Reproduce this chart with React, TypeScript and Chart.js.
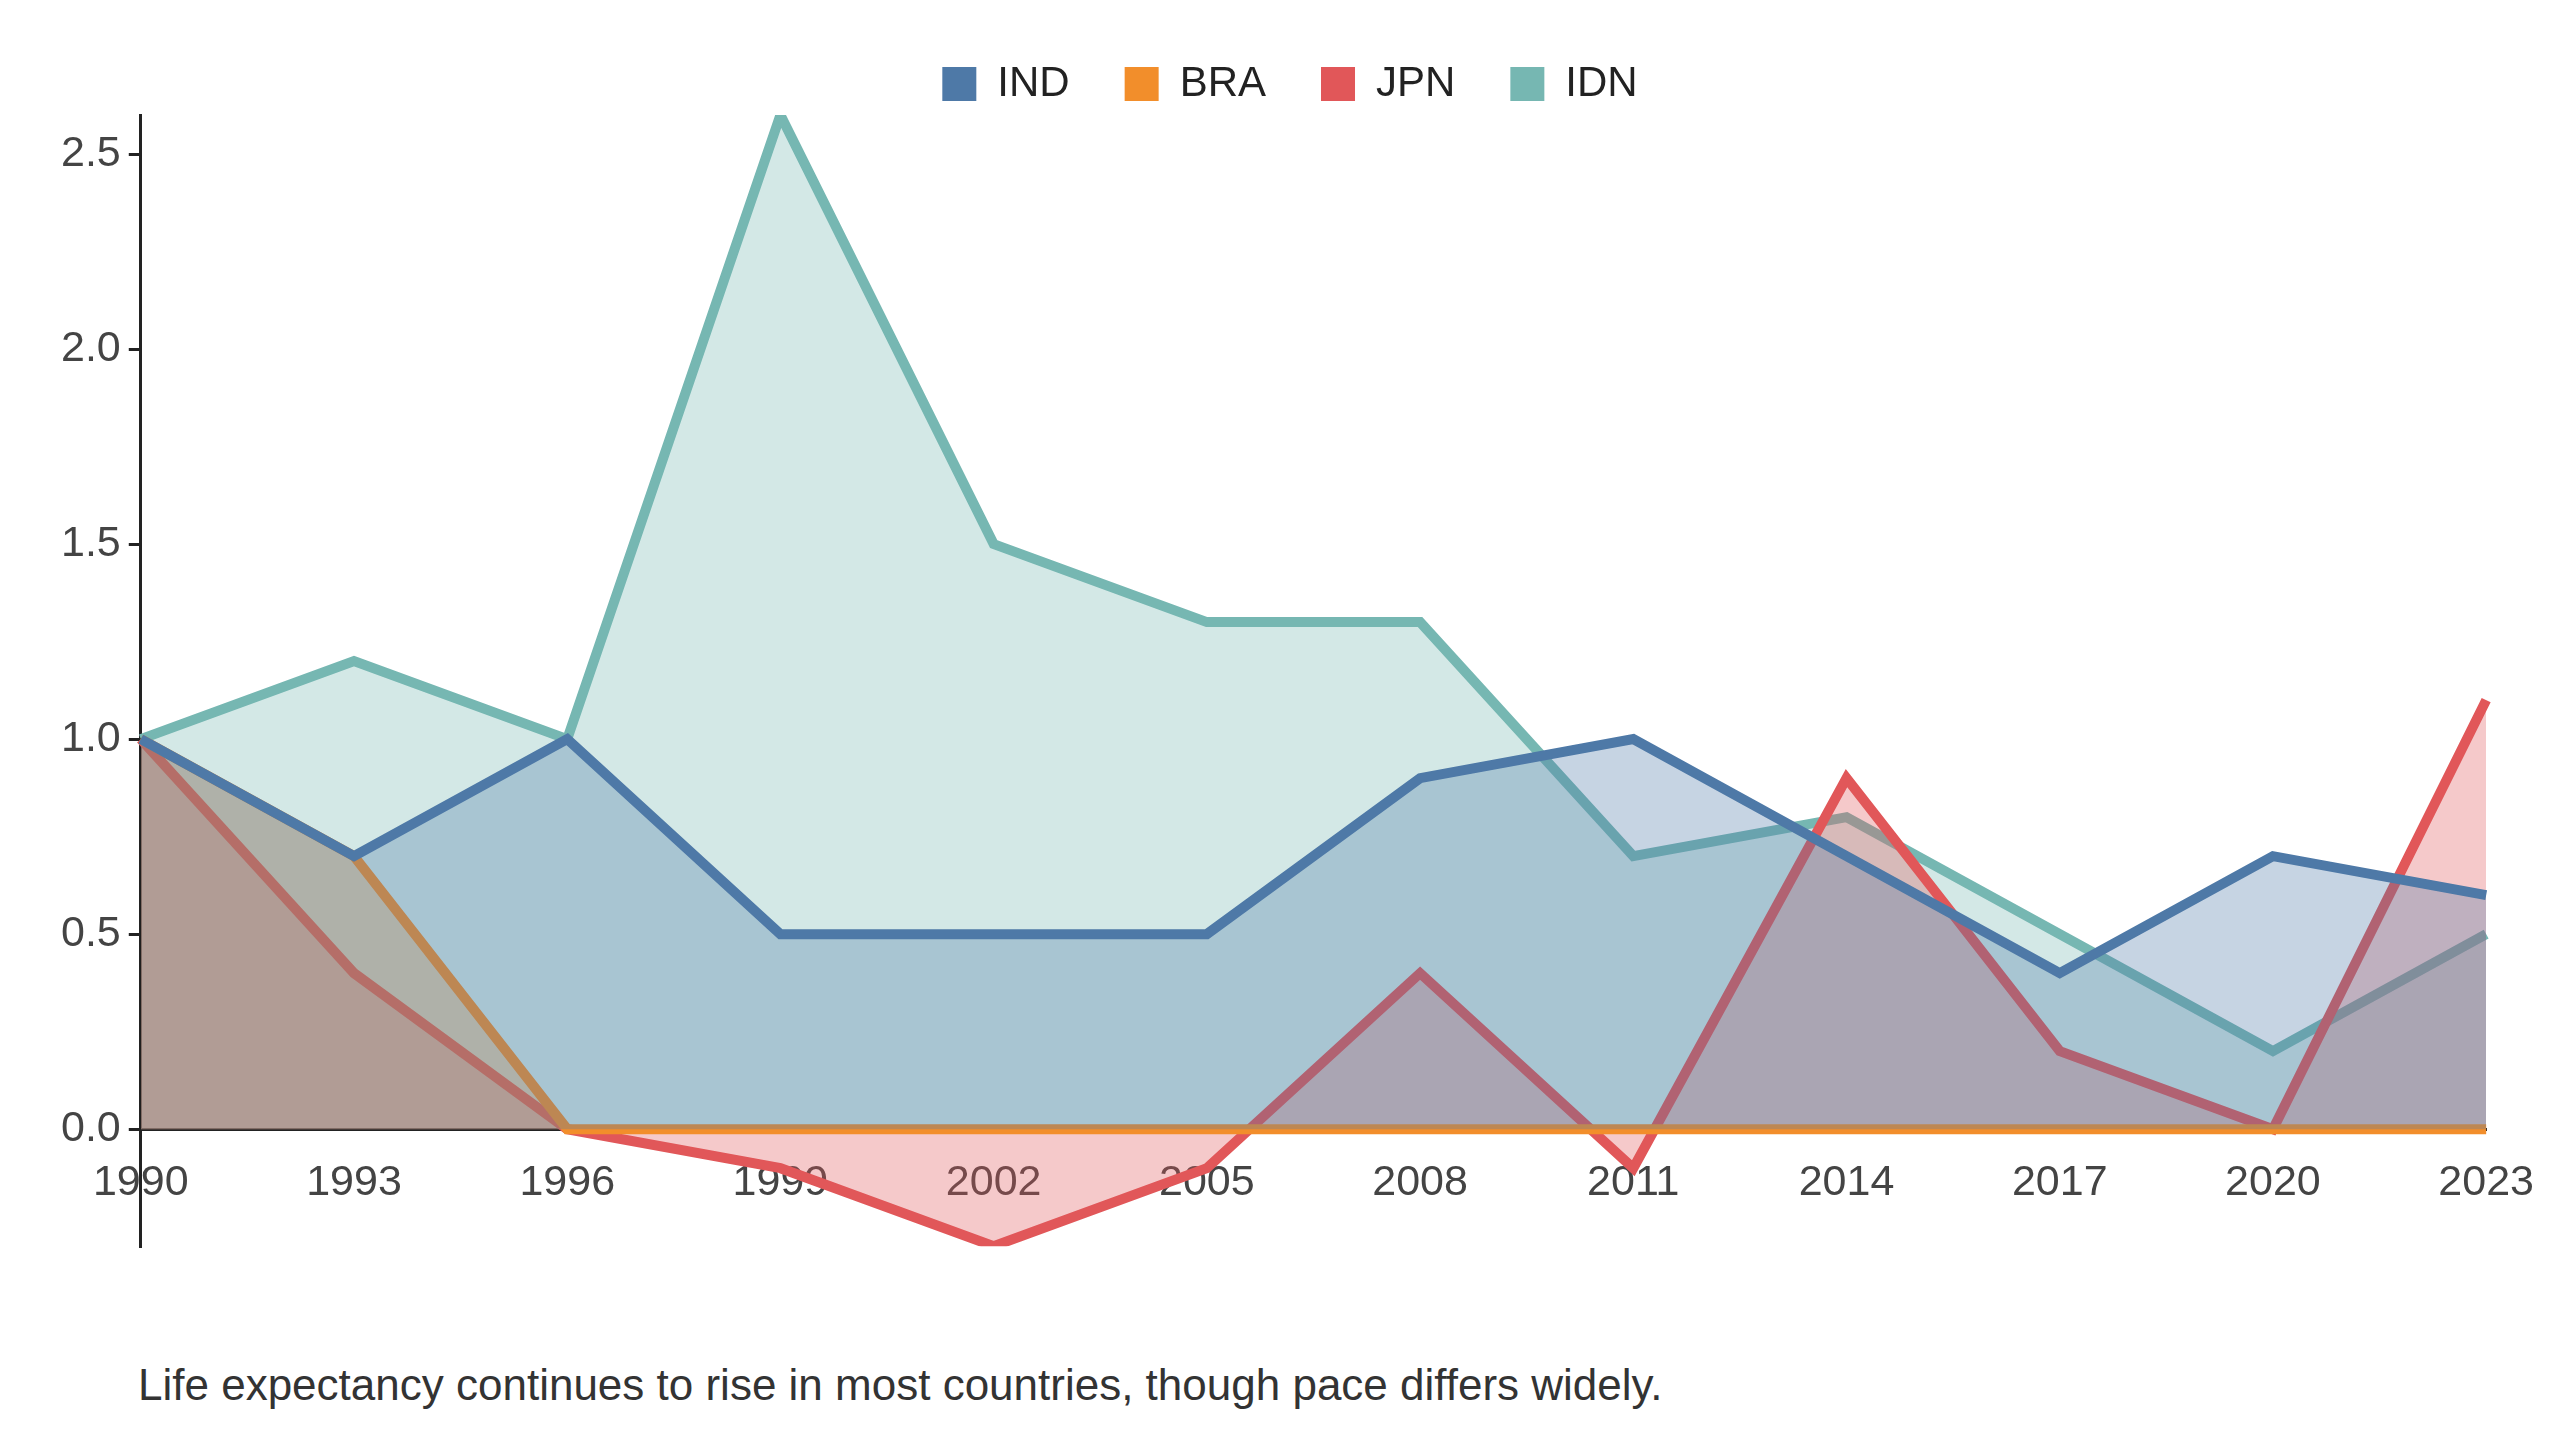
import React, { useEffect, useRef } from "react";
import { Chart, registerables } from "chart.js";
Chart.register(...registerables);

const years = ["1990","1993","1996","1999","2002","2005","2008","2011","2014","2017","2020","2023"];
const IND = [1.0,0.7,1.0,0.5,0.5,0.5,0.9,1.0,0.7,0.4,0.7,0.6];
const BRA = [1.0,0.7,0,0,0,0,0,0,0,0,0,0];
const JPN = [1.0,0.4,0.0,-0.1,-0.3,-0.1,0.4,-0.1,0.9,0.2,0.0,1.1];
const IDN = [1.0,1.2,1.0,2.6,1.5,1.3,1.3,0.7,0.8,0.5,0.2,0.5];

const series = [
  { label: "IND", data: IND, color: "78,121,167" },
  { label: "BRA", data: BRA, color: "242,142,43" },
  { label: "JPN", data: JPN, color: "225,87,89" },
  { label: "IDN", data: IDN, color: "118,183,178" },
];

export default function App() {
  const ref = useRef<HTMLCanvasElement>(null);
  useEffect(() => {
    const font = "Arial, 'Liberation Sans', sans-serif";
    const chart = new Chart(ref.current!, {
      type: "line",
      data: {
        labels: years,
        datasets: series.map((s) => ({
          label: s.label,
          data: s.data,
          borderColor: `rgb(${s.color})`,
          backgroundColor: `rgba(${s.color},0.32)`,
          fill: "origin",
          borderWidth: 10,
          pointRadius: 0,
          tension: 0,
        })),
      },
      options: {
        animation: false,
        responsive: false,
        layout: { padding: { left: 45, right: 25, top: 0, bottom: 10 } },
        plugins: {
          legend: {
            labels: {
              font: { family: font, size: 42 },
              color: "#222",
              boxWidth: 34,
              boxHeight: 34,
              padding: 55,
              generateLabels: (c: any) =>
                series.map((s, i) => ({
                  text: s.label,
                  fillStyle: `rgb(${s.color})`,
                  strokeStyle: `rgb(${s.color})`,
                  lineWidth: 0,
                  hidden: !c.isDatasetVisible(i),
                  datasetIndex: i,
                  fontColor: "#222",
                })),
            },
          },
          tooltip: { enabled: false },
        },
        scales: {
          x: {
            position: { y: 0 } as any,
            offset: false,
            grid: { display: false, drawTicks: true, tickLength: 10 },
            border: { color: "#222", width: 3 },
            ticks: { font: { family: font, size: 43 }, color: "#444", maxRotation: 0, autoSkip: false, padding: 18 },
          },
          y: {
            min: -0.3,
            max: 2.6,
            afterBuildTicks: (scale: any) => {
              scale.ticks = [0, 0.5, 1, 1.5, 2, 2.5].map((v) => ({ value: v }));
            },
            grid: { display: true, drawOnChartArea: false, drawTicks: true, tickLength: 12, color: "#222", lineWidth: 3 },
            border: { color: "#222", width: 3 },
            ticks: {
              font: { family: font, size: 43 },
              color: "#444",
              padding: 8,
              callback: (v: any) => Number(v).toFixed(1),
            },
          },
        },
      },
    });
    return () => chart.destroy();
  }, []);
  return (
    <div style={{ fontFamily: "Arial, 'Liberation Sans', sans-serif" }}>
      <canvas ref={ref} width={2544} height={1272} style={{ display: "block" }} />
      <div style={{ marginLeft: 130, marginTop: 80, fontSize: 44, color: "#333" }}>
        Life expectancy continues to rise in most countries, though pace differs widely.
      </div>
    </div>
  );
}
